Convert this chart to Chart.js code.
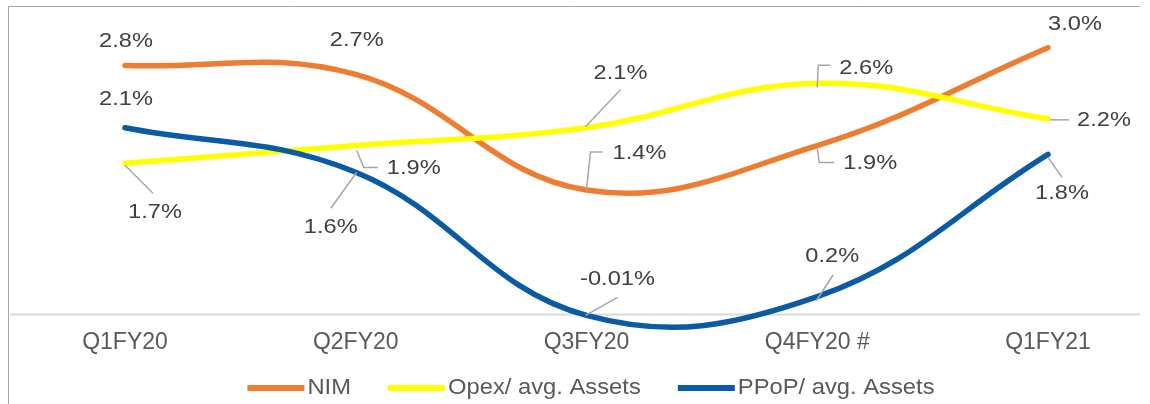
<!DOCTYPE html>
<html lang="en">
<head>
<meta charset="UTF-8">
<title>NIM, Opex and PPoP</title>
<script src="https://cdn.jsdelivr.net/npm/chart.js"></script>
<style>
    html, body { margin: 0; padding: 0; background: #ffffff; overflow: hidden; }
    .wrap { position: relative; width: 1150px; height: 404px; }
</style>
</head>
<body>
<div class="wrap"><canvas id="chart"></canvas></div>
<script>
    // data
    const quarters = ['Q1FY20', 'Q2FY20', 'Q3FY20', 'Q4FY20 #', 'Q1FY21'];
    const nim = [2.8, 2.7, 1.4, 1.9, 3.0];
    const opex = [1.7, 1.9, 2.1, 2.6, 2.2];
    const ppop = [2.1, 1.6, -0.01, 0.2, 1.8];
    const seriesNames = ['NIM', 'Opex/ avg. Assets', 'PPoP/ avg. Assets'];

    const colors = ['#ED7D31', '#FFFF00', '#0B5AA4'];
    const FONT = "'Liberation Sans', Arial, sans-serif";

    // label offsets (dx, dy from the point) and leader polylines
    const labelLayout = [
        [
            { dx: 1, dy: -24 },
            { dx: 1, dy: -34 },
            { dx: 53, dy: -37, leader: [[0, -1], [4, -38], [16, -38]] },
            { dx: 53, dy: 18, leader: [[0, 3], [2, 17], [17, 17]] },
            { dx: 27, dy: -23 }
        ],
        [
            { dx: 30, dy: 49, leader: [[0, 2], [28, 30]] },
            { dx: 58, dy: 23, leader: [[1, 5], [8, 22], [22, 22]] },
            { dx: 34, dy: -54, leader: [[-1, -1], [34, -38]] },
            { dx: 49, dy: -15, leader: [[0, 4], [1, -18], [13, -18]] },
            { dx: 56, dy: 2, leader: [[2, 1], [21, 1]] }
        ],
        [
            { dx: 1, dy: -28 },
            { dx: -25, dy: 55, leader: [[1, 0], [-25, 36]] },
            { dx: 31, dy: -36, leader: [[-1, 0], [31, -18]] },
            { dx: 15, dy: -40, leader: [[-1, 4], [16, -22]] },
            { dx: 14, dy: 39, leader: [[0, 3], [14, 23]] }
        ]
    ];

    function fmt(v) {
        return (Math.abs(v) < 0.1 && v !== 0 ? v.toFixed(2) : v.toFixed(1)) + '%';
    }

    const framePlugin = {
        id: 'frame',
        beforeDatasetsDraw(chart) {
            const ctx = chart.ctx;
            const y0 = chart.scales.y.getPixelForValue(0);
            ctx.save();
            ctx.strokeStyle = '#d9d9d9';
            ctx.lineWidth = 2;
            ctx.beginPath();
            ctx.moveTo(10, y0);
            ctx.lineTo(1140, y0);
            ctx.stroke();
            ctx.strokeStyle = '#a6a6a6';
            ctx.lineWidth = 1;
            ctx.beginPath();
            ctx.moveTo(8.5, 404);
            ctx.lineTo(8.5, 6.5);
            ctx.lineTo(1140, 6.5);
            ctx.stroke();
            ctx.restore();
        }
    };

    const labelPlugin = {
        id: 'pointLabels',
        afterDatasetsDraw(chart) {
            const ctx = chart.ctx;
            ctx.save();
            ctx.font = '20px ' + FONT;
            ctx.fillStyle = '#404040';
            ctx.textAlign = 'center';
            ctx.textBaseline = 'middle';
            ctx.strokeStyle = '#a6a6a6';
            ctx.lineWidth = 1.5;
            chart.data.datasets.forEach((ds, i) => {
                const meta = chart.getDatasetMeta(i);
                meta.data.forEach((pt, j) => {
                    const lay = labelLayout[i][j];
                    if (lay.leader) {
                        ctx.beginPath();
                        lay.leader.forEach(([dx, dy], k) => {
                            if (k === 0) ctx.moveTo(pt.x + dx, pt.y + dy);
                            else ctx.lineTo(pt.x + dx, pt.y + dy);
                        });
                        ctx.stroke();
                    }
                    ctx.save();
                    ctx.translate(pt.x + lay.dx, pt.y + lay.dy);
                    ctx.scale(1.18, 1);
                    ctx.fillText(fmt(ds.data[j]), 0, 0);
                    ctx.restore();
                });
            });
            ctx.restore();
        }
    };

    // legend: line sample then text, centred under the plot
    const legendPlugin = {
        id: 'lineLegend',
        afterDraw(chart) {
            const ctx = chart.ctx;
            const sample = 57, gap = 3, itemGap = 37, stretch = 1.08, y = 388;
            ctx.save();
            ctx.font = '22px ' + FONT;
            const items = chart.data.datasets.map(ds => ({
                text: ds.label,
                color: ds.borderColor,
                w: ctx.measureText(ds.label).width * stretch
            }));
            const total = items.reduce((s, it) => s + sample + gap + it.w, 0) + itemGap * (items.length - 1);
            let x = 591 - total / 2;
            ctx.textBaseline = 'middle';
            ctx.textAlign = 'left';
            items.forEach(it => {
                ctx.strokeStyle = it.color;
                ctx.lineWidth = 6;
                ctx.beginPath();
                ctx.moveTo(x, y);
                ctx.lineTo(x + sample, y);
                ctx.stroke();
                x += sample + gap;
                ctx.save();
                ctx.translate(x, y);
                ctx.scale(stretch, 1);
                ctx.fillStyle = '#595959';
                ctx.fillText(it.text, 0, 0);
                ctx.restore();
                x += it.w + itemGap;
            });
            ctx.restore();
        }
    };

    const values = [nim, opex, ppop];
    const datasets = values.map((v, i) => ({
        label: seriesNames[i],
        data: v,
        borderColor: colors[i],
        backgroundColor: colors[i],
        borderWidth: 5.5,
        borderCapStyle: 'round',
        tension: 0.4,
        pointRadius: 0,
        pointHoverRadius: 0,
        clip: false,
        order: 3 - i
    }));

    new Chart(document.getElementById('chart'), {
        type: 'line',
        data: { labels: quarters, datasets: datasets },
        options: {
            responsive: true,
            maintainAspectRatio: false,
            animation: false,
            elements: { line: { capBezierPoints: false } },
            layout: { padding: { left: 125, right: 102, top: 21, bottom: 43 } },
            scales: {
                x: {
                    offset: false,
                    grid: { display: false, drawTicks: false },
                    border: { display: false },
                    ticks: {
                        color: '#595959',
                        font: { family: FONT, size: 23 },
                        padding: 5,
                        maxRotation: 0,
                        autoSkip: false
                    }
                },
                y: {
                    display: false,
                    min: -0.1,
                    max: 3.3
                }
            },
            plugins: {
                legend: { display: false },
                tooltip: { enabled: false }
            }
        },
        plugins: [framePlugin, labelPlugin, legendPlugin]
    });
</script>
</body>
</html>
